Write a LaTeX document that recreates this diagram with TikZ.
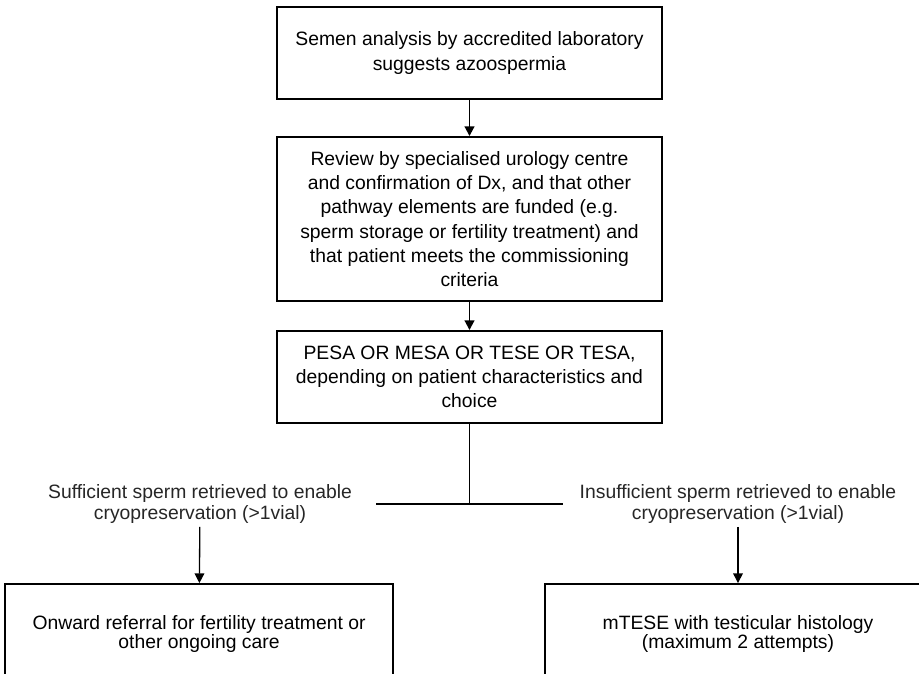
\documentclass[tikz,border=0pt]{standalone}
\usepackage{fontspec}
\setmainfont{Liberation Sans}
\usepackage{tikz}
\usetikzlibrary{arrows.meta}

\begin{document}
\begin{tikzpicture}[x=0.02cm,y=-0.02cm,
    box/.style={draw,line width=1.1pt,align=center,minimum width=7.7cm,inner sep=0,
      font=\fontsize{11pt}{13.8pt}\selectfont},
    lowbox/.style={draw,line width=1.1pt,align=center,minimum height=2cm,inner sep=0,
      font=\fontsize{11pt}{11pt}\selectfont},
    branch/.style={align=center,inner sep=1.5pt,text=black!85,
      font=\fontsize{11pt}{12.3pt}\selectfont},
    link/.style={line width=1.1pt,arrows=-{Triangle[length=5.5pt,width=5.5pt]}},
    thinlink/.style={line width=0.75pt,arrows=-{Triangle[length=5.5pt,width=5.5pt]}}]
    \useasboundingbox (0,0) rectangle (919,673);
    \clip (0,0) rectangle (919,673);

    \node [box,minimum height=1.84cm] (semen) at (469.5,53) {Semen analysis by accredited laboratory\\suggests azoospermia};
    \node [box,minimum height=3.28cm] (review) at (469.5,219) {Review by specialised urology centre\\and confirmation of Dx, and that other\\pathway elements are funded (e.g.\\sperm storage or fertility treatment) and\\that patient meets the commissioning\\criteria};
    \node [box,minimum height=1.84cm] (pesa) at (469.5,377) {PESA OR MESA OR TESE OR TESA,\\depending on patient characteristics and\\choice};

    \coordinate (split) at (469.5,504);
    \coordinate (splitleft) at (376,504);
    \coordinate (splitright) at (563,504);

    \node [branch] (suff) at (200,504) {Sufficient sperm retrieved to enable\\cryopreservation (>1vial)};
    \node [branch] (insuff) at (738,504) {Insufficient sperm retrieved to enable\\cryopreservation (>1vial)};

    \node [lowbox,minimum width=7.76cm] (onward) at (199,634) {Onward referral for fertility treatment or\\other ongoing care};
    \node [lowbox,minimum width=7.72cm] (mtese) at (738,634) {mTESE with testicular histology\\(maximum 2 attempts)};

    \draw [link] (semen) -- (review);
    \draw [link] (review) -- (pesa);
    \draw [line width=1.1pt] (pesa) -- (split);
    \draw [line width=1.1pt] (splitleft) -- (splitright);
    \draw [thinlink] (suff) -- (onward);
    \draw [thinlink] (insuff) -- (mtese);

\end{tikzpicture}
\end{document}
